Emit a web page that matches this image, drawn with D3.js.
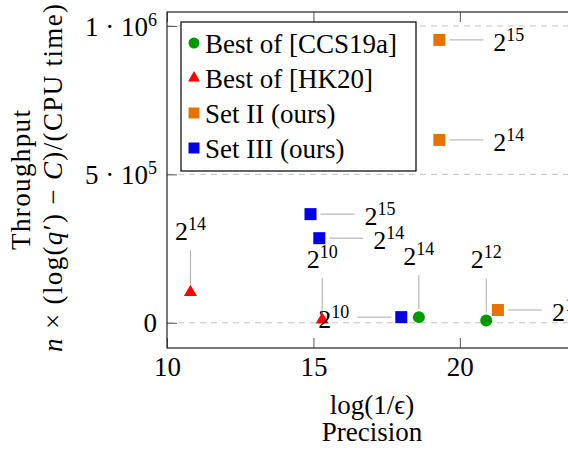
<!DOCTYPE html>
<html>
<head>
<meta charset="utf-8">
<script src="https://cdn.jsdelivr.net/npm/d3@7"></script>
<style>
  body { margin: 0; background: white; }
</style>
</head>
<body>
<div id="chart"></div>
<script>
//////////////// DATA ////////////////

// x = log(1/eps), y = throughput, exp = label 2^exp, pin = side of the label
var ccsX = [18.6, 20.9],
    ccsY = [19000, 8000],
    ccsExp = [14, 12],
    ccsPin = ["above", "above"];

var hkX = [10.8, 15.3],
    hkY = [103000, 10000],
    hkExp = [14, 10],
    hkPin = ["above", "above"];

var set2X = [19.3, 19.3, 21.3],
    set2Y = [953000, 616000, 43000],
    set2Exp = [15, 14, 13],
    set2Pin = ["right", "right", "right"];

var set3X = [14.9, 15.2, 18.0],
    set3Y = [366000, 285000, 19000],
    set3Exp = [15, 14, 10],
    set3Pin = ["right", "right", "left"];

var seriesNames = ["Best of [CCS19a]", "Best of [HK20]", "Set II (ours)", "Set III (ours)"];
var xTicks = [10, 15, 20],
    yTicks = [0, 500000, 1000000],
    yTickBase = ["0", "5", "1"],
    yTickExp = ["", "5", "6"];

//////////////// SETUP ////////////////

var w = 568, h = 450,
    margin = {top: 12, bottom: 102, left: 167};
var serif = "'Liberation Serif'";

var colors = ["#009900", "#ff0000", "#e67300", "#0000e6"],
    shapes = ["circle", "triangle", "square", "square"];

var svg = d3.select("#chart").append("svg")
    .attr("width", w)
    .attr("height", h);

var x = d3.scaleLinear().domain([10, 24]).range([margin.left, 577]);
var y = d3.scaleLinear().domain([-85000, 1047000]).range([h - margin.bottom, margin.top]);

var series = [
    {x: ccsX, y: ccsY, exp: ccsExp, pin: ccsPin},
    {x: hkX, y: hkY, exp: hkExp, pin: hkPin},
    {x: set2X, y: set2Y, exp: set2Exp, pin: set2Pin},
    {x: set3X, y: set3Y, exp: set3Exp, pin: set3Pin}
];

// helper so every text gets the font directly
var addText = function(g, size) {
    return g.append("text")
        .attr("font-family", serif)
        .attr("font-size", size)
        .attr("fill", "#000");
};

// Grid
svg.append("g").selectAll("line")
    .data(yTicks)
    .enter().append("line")
    .attr("x1", x(10)).attr("x2", x(24))
    .attr("y1", function(d) { return y(d); })
    .attr("y2", function(d) { return y(d); })
    .attr("stroke", "#c4c4c4")
    .attr("stroke-width", 1)
    .attr("stroke-dasharray", "6,5");

// Axes - ticks point inside, like pgfplots
var tickColor = "#555";
var gx = svg.append("g")
    .attr("transform", "translate(0," + y.range()[0] + ")")
    .call(d3.axisBottom(x).tickValues(xTicks).tickSizeInner(-10).tickSizeOuter(0).tickPadding(9));
var gxTop = svg.append("g")
    .attr("transform", "translate(0," + y.range()[1] + ")")
    .call(d3.axisTop(x).tickValues(xTicks).tickSizeInner(-10).tickSizeOuter(0).tickFormat(""));
var gy = svg.append("g")
    .attr("transform", "translate(" + x.range()[0] + ",0)")
    .call(d3.axisLeft(y).tickValues(yTicks).tickSizeInner(-10).tickSizeOuter(0).tickFormat(""));

[gx, gxTop, gy].forEach(function(g) {
    g.attr("font-family", serif);
    g.select(".domain").remove();
    g.selectAll(".tick line").attr("stroke", tickColor);
});
gx.selectAll(".tick text")
    .attr("font-family", serif)
    .attr("font-size", 27)
    .attr("fill", "#000");

// y tick labels with exponents
yTicks.forEach(function(d, i) {
    var t = addText(svg, 27)
        .attr("x", 157)
        .attr("y", y(d) + (yTickExp[i] ? 10 : 9))
        .attr("text-anchor", "end");
    if (!yTickExp[i]) { t.text(yTickBase[i]); return; }
    t.append("tspan").text(yTickBase[i] + " \u00b7 10");
    t.append("tspan").attr("font-size", 18).attr("dy", -10).text(yTickExp[i]);
});

// Frame
svg.append("rect")
    .attr("x", x.range()[0]).attr("y", y.range()[1])
    .attr("width", x.range()[1] - x.range()[0])
    .attr("height", y.range()[0] - y.range()[1])
    .attr("fill", "none")
    .attr("stroke", "#222")
    .attr("stroke-width", 1.2);

//////////////// MARKS ////////////////

var drawMark = function(g, shape, color, cx, cy, s) {
    if (shape == "circle") {
        g.append("circle").attr("cx", cx).attr("cy", cy).attr("r", s / 2).attr("fill", color);
    } else if (shape == "square") {
        g.append("rect").attr("x", cx - s / 2).attr("y", cy - s / 2)
            .attr("width", s).attr("height", s).attr("fill", color);
    } else {
        var side = s + 1;
        g.append("path")
            .attr("d", d3.symbol(d3.symbolTriangle, Math.sqrt(3) / 4 * side * side)())
            .attr("transform", "translate(" + cx + "," + cy + ")")
            .attr("fill", color);
    }
};

var pinColor = "#aaa";
var addLabel = function(g, text, exp, anchor, tx, ty) {
    var t = addText(g, 26)
        .attr("x", tx).attr("y", ty)
        .attr("text-anchor", anchor);
    t.append("tspan").text(text);
    t.append("tspan").attr("font-size", 18).attr("dy", -10).text(exp);
};

var marks = svg.append("g");
series.forEach(function(s, si) {
    s.x.forEach(function(xv, i) {
        var px = x(xv), py = y(s.y[i]);
        var side = s.pin[i];
        if (side == "above") {
            marks.append("line").attr("x1", px).attr("x2", px)
                .attr("y1", py - 8).attr("y2", py - 42).attr("stroke", pinColor);
            addLabel(marks, "2", s.exp[i], "middle", px, py - 52);
        } else if (side == "right") {
            marks.append("line").attr("x1", px + 10).attr("x2", px + 44)
                .attr("y1", py).attr("y2", py).attr("stroke", pinColor);
            addLabel(marks, "2", s.exp[i], "start", px + 54, py + 11);
        } else {
            marks.append("line").attr("x1", px - 10).attr("x2", px - 44)
                .attr("y1", py).attr("y2", py).attr("stroke", pinColor);
            addLabel(marks, "2", s.exp[i], "end", px - 52, py + 11);
        }
        drawMark(marks, shapes[si], colors[si], px, py, 12);
    });
});

//////////////// LEGEND ////////////////

var legend = svg.append("g");
legend.append("rect")
    .attr("x", 181).attr("y", 22)
    .attr("width", 235).attr("height", 149)
    .attr("fill", "white")
    .attr("stroke", "#000")
    .attr("stroke-width", 1.2);
seriesNames.forEach(function(name, i) {
    var ry = 43 + i * 35;
    drawMark(legend, shapes[i], colors[i], 194, ry, 11);
    addText(legend, 27)
        .attr("x", 205).attr("y", ry + 10)
        .text(name);
});

//////////////// AXIS TITLES ////////////////

var cx = (x.range()[0] + x.range()[1]) / 2;
addText(svg, 27).attr("x", cx).attr("y", 414)
    .attr("text-anchor", "middle")
    .text("log(1/\u03f5)");
addText(svg, 27).attr("x", cx).attr("y", 441)
    .attr("text-anchor", "middle")
    .text("Precision");

var cy = (y.range()[0] + y.range()[1]) / 2;
addText(svg, 27)
    .attr("transform", "translate(30," + cy + ") rotate(-90)")
    .attr("text-anchor", "middle")
    .attr("textLength", 140)
    .text("Throughput");
var yt = addText(svg, 27)
    .attr("transform", "translate(62," + (cy - 2) + ") rotate(-90)")
    .attr("text-anchor", "middle")
    .attr("textLength", 348);
yt.append("tspan").attr("font-style", "italic").text("n");
yt.append("tspan").text(" \u00d7 (log(");
yt.append("tspan").attr("font-style", "italic").text("q");
yt.append("tspan").text("\u2032) \u2212 ");
yt.append("tspan").attr("font-style", "italic").text("C");
yt.append("tspan").text(")/(CPU time)");
</script>
</body>
</html>
